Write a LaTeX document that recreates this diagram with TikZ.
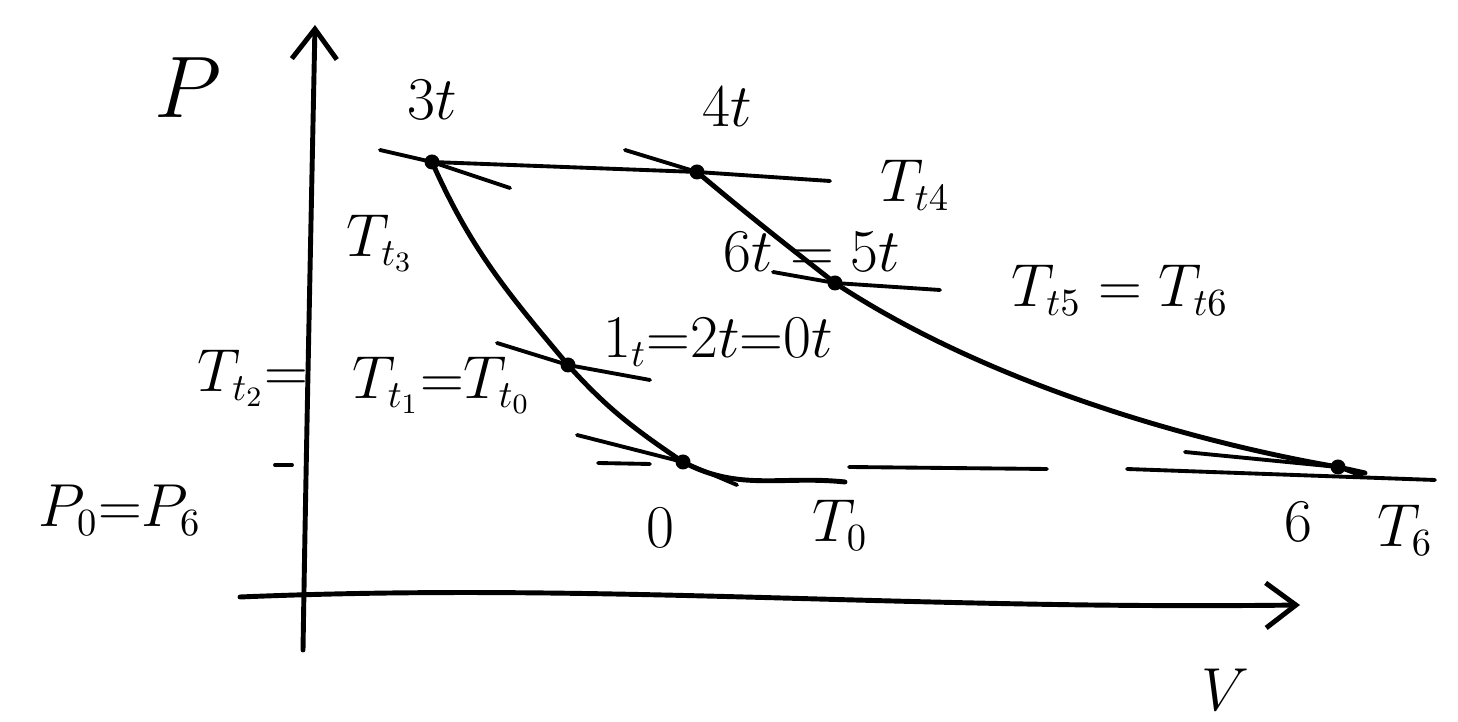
\documentclass[tikz,border=0pt]{standalone}
\usetikzlibrary{arrows.meta}
\tikzset{
  curve/.style={line width=1.4pt},
  guide/.style={line width=1.1pt},
  axis/.style={line width=1.4pt,-{Straight Barb[length=3mm,width=4.5mm,line width=1.4pt]}},
  lbl/.style={font=\fontsize{16}{19}\selectfont},
  biglbl/.style={font=\fontsize{26}{30}\selectfont}
}
\begin{document}
\begin{tikzpicture}[line cap=round]
\useasboundingbox (0,0) rectangle (14.58,7.22);
% axes
\coordinate (o) at (3.03,0.72);
\coordinate (ptop) at (3.15,6.97);
\coordinate (vstart) at (2.40,1.25);
\coordinate (vend) at (13.0,1.17);
\draw[axis] (o) .. controls (3.06,2.6) and (3.10,4.5) .. (ptop);
\draw[axis] (vstart) .. controls (6,1.40) and (9,1.12) .. (vend);
% states
\coordinate (s3) at (4.32,5.60);
\coordinate (s4) at (6.97,5.50);
\coordinate (s5) at (8.35,4.39);
\coordinate (s1) at (5.68,3.57);
\coordinate (s0) at (6.83,2.60);
\coordinate (s6) at (13.38,2.55);
\coordinate (e0) at (8.45,2.40);
\coordinate (e6) at (13.65,2.49);
% isentropes
\draw[curve] (s3) to[out=-66,in=130] (s1) to[out=-48,in=146] (s0) to[out=-28,in=174] (e0);
\draw[curve] (s4) to[out=-40,in=142] (s5) .. controls (10,3.3) and (12.2,2.75) .. (s6) -- (e6);
% isobar at top
\coordinate (h4) at (8.30,5.41);
\draw[guide] (s3) -- (s4) -- (h4);
% tangents at the states
\coordinate (g3a) at (3.80,5.72);
\coordinate (g3b) at (5.10,5.34);
\coordinate (g4a) at (6.25,5.72);
\coordinate (g5a) at (7.73,4.50);
\coordinate (g5b) at (9.40,4.32);
\coordinate (g1a) at (4.97,3.79);
\coordinate (g1b) at (6.50,3.42);
\coordinate (g0a) at (5.77,2.87);
\coordinate (g0b) at (7.37,2.37);
\coordinate (g6a) at (11.85,2.70);
\coordinate (g6b) at (13.62,2.46);
\draw[guide] (g3a) -- (s3) -- (g3b);
\draw[guide] (g4a) -- (s4);
\draw[guide] (g5a) -- (s5) -- (g5b);
\draw[guide] (g1a) -- (s1) -- (g1b);
\draw[guide] (g0a) -- (s0) -- (g0b);
\draw[guide] (g6a) -- (s6) -- (g6b);
% dashed isobar p0 = p6
\foreach \xa/\ya/\xb/\yb in {2.75/2.57/2.92/2.57, 5.98/2.59/6.50/2.58, 8.49/2.55/10.47/2.53, 11.27/2.53/14.35/2.42}
  {\draw[guide] (\xa,\ya) -- (\xb,\yb);}
\foreach \p in {s3,s4,s5,s1,s0,s6}
  {\fill (\p) circle (0.075);}
% labels
\node[biglbl] (lP) at (1.88,6.34) {$P$};
\node[lbl] (l3) at (4.32,6.22) {$3t$};
\node[lbl] (l4) at (7.27,6.15) {$4t$};
\node[lbl] (lT4) at (9.15,5.37) {$T_{t4}$};
\node[lbl] (lT3) at (3.80,4.79) {$T_{t_3}$};
\node[lbl] (l65) at (8.12,4.70) {$6t = 5t$};
\node[lbl] (lT56) at (11.20,4.32) {$T_{t5}=T_{t6}$};
\node[lbl] (l120) at (7.18,3.80) {$1_t{=}2t{=}0t$};
\node[lbl] (lT2) at (2.53,3.44) {$T_{t_2}{=}$};
\node[lbl] (lT10) at (4.42,3.37) {$T_{t_1}{=}T_{t_0}$};
\node[lbl] (lp06) at (1.20,2.12) {$P_0{=}P_6$};
\node[lbl] (l0) at (6.60,1.94) {$0$};
\node[lbl] (lT0) at (8.40,1.97) {$T_0$};
\node[lbl] (l6) at (12.98,2.00) {$6$};
\node[lbl] (lT6) at (14.05,1.92) {$T_6$};
\node[lbl] (lV) at (12.25,0.32) {$V$};
\end{tikzpicture}
\end{document}
